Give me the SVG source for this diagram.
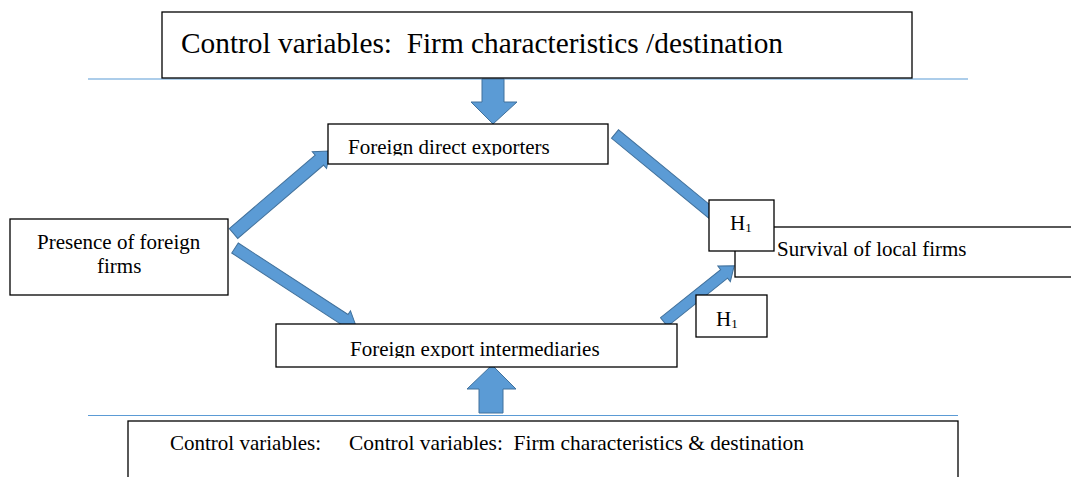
<svg xmlns="http://www.w3.org/2000/svg" width="1071" height="477" viewBox="0 0 1071 477">
  <style>
    .box { fill: #ffffff; stroke: #000000; stroke-width: 1.3; }
    text { font-family: 'Liberation Serif', 'Tinos', 'Times New Roman', 'DejaVu Serif', serif; fill: #000000; }
    .t { font-size: 21px; }
    .title { font-size: 29.5px; }
    .sub { font-size: 13px; }
    .arrow { fill: #5B9BD5; stroke: #41719C; stroke-width: 1; stroke-linejoin: miter; }
    .rule { stroke: #5B9BD5; stroke-width: 1.2; fill: none; }
  </style>
  <defs>
    <clipPath id="clipFde"><rect x="328" y="124" width="280" height="31.5"/></clipPath>
    <clipPath id="clipFei"><rect x="276" y="324" width="401" height="34"/></clipPath>
  </defs>
  <rect x="0" y="0" width="1071" height="477" fill="#ffffff"/>

  <g id="rules">
    <line class="rule" x1="88" y1="79" x2="968" y2="79"/>
    <line class="rule" x1="88" y1="415.5" x2="958" y2="415.5"/>
  </g>

  <g id="connectors">
    <polygon class="arrow" points="482,79 504,79 504,102 517,102 493,124 471,102 482,102"/>
    <polygon class="arrow" points="479,413 503,413 503,389 516,389 492,365 467,389 479,389"/>
    <polygon class="arrow" transform="translate(233.5,233.5) rotate(-40.5)" points="0,-6.5 113,-6.5 113,-11 127,0 113,11 113,6.5 0,6.5"/>
    <polygon class="arrow" transform="translate(235,248) rotate(33.1)" points="0,-6 131,-6 131,-10.5 145,0 131,10.5 131,6 0,6"/>
    <polygon class="arrow" transform="translate(615,134) rotate(39.4)" points="0,-5.5 128,-5.5 128,5.5 0,5.5"/>
    <polygon class="arrow" transform="translate(664,322) rotate(-38.7)" points="0,-5.5 77,-5.5 77,-10 90,0 77,10 77,5.5 0,5.5"/>
  </g>

  <g id="node-control-top">
    <rect class="box" x="162" y="12" width="750" height="66"/>
    <text class="title" x="181" y="53" textLength="602" lengthAdjust="spacingAndGlyphs" xml:space="preserve">Control variables:  Firm characteristics /destination</text>
  </g>

  <g id="node-direct-exporters">
    <rect class="box" x="328" y="124" width="280" height="40"/>
    <text class="t" x="348" y="154" clip-path="url(#clipFde)">Foreign direct exporters</text>
  </g>

  <g id="node-presence">
    <rect class="box" x="10" y="219" width="218" height="76"/>
    <text class="t" x="37" y="249">Presence of foreign</text>
    <text class="t" x="97" y="273">firms</text>
  </g>

  <g id="node-intermediaries">
    <rect class="box" x="276" y="324" width="401" height="43"/>
    <text class="t" x="350" y="356" clip-path="url(#clipFei)">Foreign export intermediaries</text>
  </g>

  <g id="node-survival">
    <rect class="box" x="735" y="227" width="345" height="50"/>
    <text class="t" x="777" y="256">Survival of local firms</text>
  </g>

  <g id="node-h1-upper">
    <rect class="box" x="709" y="200" width="65" height="51"/>
    <text class="t" x="730" y="230">H<tspan class="sub" dy="1.5">1</tspan></text>
  </g>

  <g id="node-h1-lower">
    <rect class="box" x="696" y="295" width="71" height="42"/>
    <text class="t" x="716" y="326">H<tspan class="sub" dy="1.5">1</tspan></text>
  </g>

  <g id="node-control-bottom">
    <rect class="box" x="128" y="421" width="830" height="70"/>
    <text class="t" x="170" y="450">Control variables:</text>
    <text class="t" x="349" y="450" textLength="455" lengthAdjust="spacingAndGlyphs" xml:space="preserve">Control variables:  Firm characteristics &amp; destination</text>
  </g>
</svg>
